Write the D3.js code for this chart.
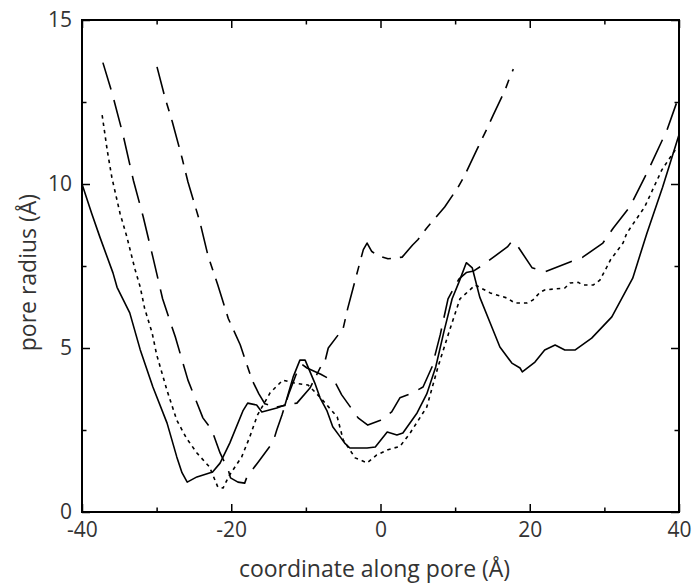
<!DOCTYPE html>
<meta charset="utf-8">
<script src="https://d3js.org/d3.v7.min.js"></script>
<style>
  body { margin: 0; background: #fff; }
</style>
<div id="chart"></div>
<script>

// tick values
var xTicks = [-40, -20, 0, 20, 40],
    xMinor = [-30, -10, 10, 30],
    yTicks = [0, 5, 10, 15],
    yMinor = [2.5, 7.5, 12.5];

// pore profiles: [coordinate (Å), radius (Å)]
var solidProfile = [
  [-40, 10.0], [-38.7, 9.1], [-37.6, 8.38], [-35.85, 7.29], [-35.3, 6.85], [-33.6, 6.07],
  [-32.2, 4.95], [-30.5, 3.81], [-28.6, 2.71], [-27.3, 1.68], [-26.6, 1.2], [-25.9, 0.91],
  [-24.6, 1.07], [-22.5, 1.22], [-21.5, 1.49], [-20.2, 2.1], [-18.4, 3.1], [-17.8, 3.32],
  [-16.6, 3.26], [-15.9, 3.05], [-13.9, 3.17], [-12.8, 3.26], [-11.7, 4.12], [-10.8, 4.63],
  [-10.1, 4.63], [-8.8, 3.93], [-8.1, 3.48], [-7.2, 3.1], [-6.4, 2.6], [-5.4, 2.29],
  [-4.8, 2.1], [-4.1, 1.95], [-1.8, 1.95], [-0.7, 1.98], [0.9, 2.44], [2.2, 2.35], [3.0, 2.41],
  [4.9, 3.02], [6.2, 3.6], [7.4, 4.42], [8.5, 5.5], [9.6, 6.5], [10.5, 7.0], [11.5, 7.6],
  [12.3, 7.44], [13.3, 6.55], [14.7, 5.76], [16, 5.03], [17.6, 4.54], [18.7, 4.39], [19, 4.27],
  [20.7, 4.57], [22, 4.94], [23.4, 5.09], [24.7, 4.94], [26.1, 4.94], [28.3, 5.3], [31, 5.95],
  [33.8, 7.13], [35.7, 8.5], [37.8, 9.9], [40, 11.5]
];

var dottedProfile = [
  [-37.3, 12.1], [-36.6, 11.0], [-36, 10.2], [-34.9, 9.1], [-34, 8.4], [-32.9, 7.4], [-32.2, 6.86],
  [-31.6, 6.2], [-30.6, 5.46], [-30, 4.8], [-28.6, 3.7], [-27.3, 2.8], [-26, 2.25], [-24.6, 1.8],
  [-22.9, 1.37], [-21.8, 0.76], [-21.1, 0.73], [-20.3, 1.1], [-18.6, 1.68], [-17.5, 2.3],
  [-16.5, 2.95], [-14.8, 3.63], [-13.1, 4.02], [-11.5, 3.93], [-9.7, 3.87], [-8.1, 3.5],
  [-5.8, 2.9], [-5.0, 2.2], [-3.4, 1.65], [-1.8, 1.5], [-0.5, 1.74], [1, 1.9], [2.6, 2.0],
  [3.95, 2.4], [6.2, 3.2], [7.7, 4.42], [9.2, 5.5], [10.65, 6.5], [12.7, 6.92], [14.7, 6.68],
  [17, 6.52], [18, 6.37], [19.6, 6.37], [20.4, 6.46], [21.4, 6.7], [22, 6.77], [24.7, 6.83],
  [25.4, 6.98], [26.5, 7.0], [27.1, 6.92], [28.5, 6.92], [29.4, 7.07], [30.4, 7.5], [30.8, 7.68],
  [32.5, 8.2], [33, 8.5], [35.4, 9.3], [37.7, 10.43], [39.5, 11.04], [39.9, 11.1]
];

var dashedProfile = [
  [-37.2, 13.7], [-36, 12.8], [-34.5, 11.5], [-33.1, 10.1], [-31.8, 9.0], [-30.5, 7.77],
  [-29.2, 6.5], [-27.5, 5.34], [-25.8, 4.02], [-23.8, 2.87], [-22.6, 2.5], [-21.5, 1.8],
  [-20.4, 1.28], [-20.1, 1.04], [-19.1, 0.91], [-18.2, 0.88], [-17.9, 1.07], [-16.4, 1.52],
  [-14.4, 2.13], [-13.9, 2.5], [-13.2, 2.96], [-12.3, 3.6], [-11.3, 4.2], [-10.5, 4.5],
  [-9.85, 4.39], [-8, 4.2], [-6.1, 3.96], [-5.2, 3.57], [-3, 2.87], [-1.7, 2.65], [0, 2.8],
  [1.5, 3.05], [2.6, 3.48], [4, 3.6], [5.7, 3.81], [6.9, 4.42], [8, 5.4], [9.05, 6.5],
  [10.5, 7.1], [11.5, 7.3], [12.5, 7.35], [13.7, 7.53], [17, 8.08], [17.6, 8.25], [18.1, 8.2],
  [20.3, 7.45], [22, 7.32], [25.4, 7.62], [27.1, 7.77], [29.8, 8.2], [31.2, 8.66], [33.4, 9.3],
  [35.9, 10.43], [38.4, 11.65], [39.9, 12.62]
];

var dashDotProfile = [
  [-29.95, 13.57], [-28.9, 12.65], [-27.9, 11.9], [-26.6, 10.8], [-25.8, 10.06], [-24.2, 8.84],
  [-23.1, 7.8], [-21.8, 6.92], [-20.4, 5.9], [-18.8, 5.1], [-17.8, 4.42], [-17.2, 4.02],
  [-16.3, 3.6], [-15.5, 3.3], [-14, 3.2], [-12.8, 3.25], [-11.2, 3.32], [-9.45, 3.78],
  [-8.1, 4.39], [-7.4, 4.63], [-7.0, 5.0], [-5.0, 5.6], [-4.4, 6.2], [-2.75, 7.62], [-2.3, 8.0],
  [-1.8, 8.2], [-1.2, 7.95], [-0.5, 7.83], [1, 7.72], [2.9, 7.77], [4.3, 8.14], [5, 8.3],
  [6.2, 8.66], [8.6, 9.3], [10.4, 9.9], [11.3, 10.27], [12.9, 11.04], [14.3, 11.7], [15.1, 12.1],
  [16.7, 12.87], [17.4, 13.3], [17.8, 13.5]
];

var margin = {top: 20, right: 16, bottom: 74, left: 82},
    width = 695 - margin.left - margin.right,
    height = 586 - margin.top - margin.bottom;

var svg = d3.select("#chart")
  .append("svg")
    .attr("width", 695)
    .attr("height", 586)
  .append("g")
    .attr("transform", "translate(" + margin.left + "," + margin.top + ")");

var x = d3.scaleLinear().domain([-40, 40]).range([0, width]);
var y = d3.scaleLinear().domain([0, 15]).range([height, 0]);

var font = "'Open Sans', sans-serif";
var plain = function(d) { return String(d); };   // hyphen minus, like the original

// axes: ticks point inward on all four sides
function styleAxis(g) {
  g.attr("font-family", font).attr("font-size", 21);
  g.select(".domain").remove();
  g.selectAll(".tick line").attr("stroke", "#000").attr("stroke-width", 1.5);
  g.selectAll(".tick text").attr("fill", "#333");
}

svg.append("g")
    .attr("transform", "translate(0," + height + ")")
    .call(d3.axisBottom(x).tickValues(xTicks).tickSize(-8).tickPadding(10).tickFormat(plain))
    .call(styleAxis);
svg.append("g")
    .attr("transform", "translate(0," + height + ")")
    .call(d3.axisBottom(x).tickValues(xMinor).tickSize(-4.5).tickFormat(""))
    .call(styleAxis);
svg.append("g")
    .call(d3.axisTop(x).tickValues(xTicks).tickSize(-8).tickFormat(""))
    .call(styleAxis);
svg.append("g")
    .call(d3.axisTop(x).tickValues(xMinor).tickSize(-4.5).tickFormat(""))
    .call(styleAxis);

svg.append("g")
    .call(d3.axisLeft(y).tickValues(yTicks).tickSize(-8).tickPadding(10).tickFormat(plain))
    .call(styleAxis);
svg.append("g")
    .call(d3.axisLeft(y).tickValues(yMinor).tickSize(-4.5).tickFormat(""))
    .call(styleAxis);
svg.append("g")
    .attr("transform", "translate(" + width + ",0)")
    .call(d3.axisRight(y).tickValues(yTicks).tickSize(-8).tickFormat(""))
    .call(styleAxis);
svg.append("g")
    .attr("transform", "translate(" + width + ",0)")
    .call(d3.axisRight(y).tickValues(yMinor).tickSize(-4.5).tickFormat(""))
    .call(styleAxis);

// frame
svg.append("rect")
    .attr("width", width)
    .attr("height", height)
    .attr("fill", "none")
    .attr("stroke", "#000")
    .attr("stroke-width", 2);

// the four profiles
var line = d3.line()
    .x(function(d) { return x(d[0]); })
    .y(function(d) { return y(d[1]); });

var profiles = [
  {data: solidProfile,   dash: null},
  {data: dottedProfile,  dash: "3.5,4"},
  {data: dashedProfile,  dash: "28,11"},
  {data: dashDotProfile, dash: "28,9,9,9"}
];

svg.selectAll("path.profile")
  .data(profiles)
  .enter()
  .append("path")
    .attr("class", "profile")
    .attr("d", function(d) { return line(d.data); })
    .attr("fill", "none")
    .attr("stroke", "#000")
    .attr("stroke-width", 1.6)
    .attr("stroke-linejoin", "round")
    .attr("stroke-dasharray", function(d) { return d.dash; });

// axis titles
svg.append("text")
    .attr("x", x(-0.8))
    .attr("y", height + 65)
    .attr("text-anchor", "middle")
    .attr("font-family", font)
    .attr("font-size", 23)
    .attr("fill", "#333")
    .text("coordinate along pore (Å)");

svg.append("text")
    .attr("transform", "translate(" + (-46) + "," + y(7.3) + ") rotate(-90)")
    .attr("text-anchor", "middle")
    .attr("font-family", font)
    .attr("font-size", 23)
    .attr("fill", "#333")
    .text("pore radius (Å)");

</script>
